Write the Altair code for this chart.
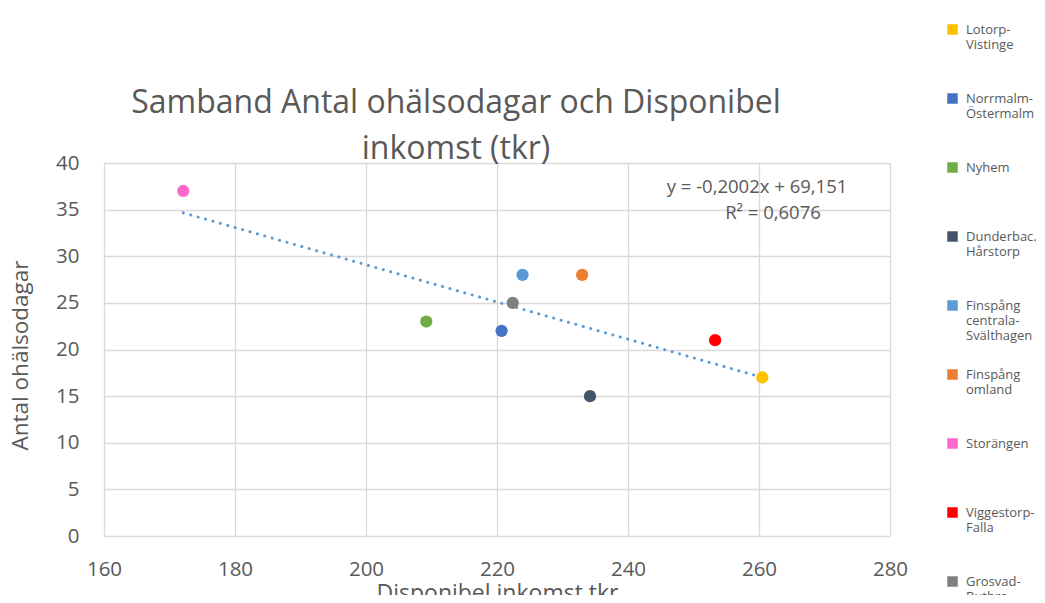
import altair as alt
import pandas as pd

# Data
areas = [
    "Lotorp-\nVistinge",
    "Norrmalm-\nÖstermalm",
    "Nyhem",
    "Dunderbac.\nHårstorp",
    "Finspång\ncentrala-\nSvälthagen",
    "Finspång\nomland",
    "Storängen",
    "Viggestorp-\nFalla",
    "Grosvad-\nButbro",
]
income = [260.5, 220.7, 209.2, 234.2, 223.9, 233.0, 172.1, 253.3, 222.4]
sick_days = [17, 22, 23, 15, 28, 28, 37, 21, 25]
colors = ["#FFC000", "#4472C4", "#70AD47", "#44546A", "#5B9BD5",
          "#ED7D31", "#FF66CC", "#FF0000", "#7F7F7F"]
x_ticks = [160, 180, 200, 220, 240, 260, 280]
y_ticks = [0, 5, 10, 15, 20, 25, 30, 35, 40]
eq_line1 = "y = -0,2002x + 69,151"
eq_line2 = "R² = 0,6076"

df = pd.DataFrame({"area": areas, "income": income, "days": sick_days})

FONT = "Open Sans"
GREY = "#595959"

base = alt.Chart(df)

points = base.mark_circle(size=150, opacity=1).encode(
    x=alt.X("income:Q", scale=alt.Scale(domain=[160, 280], nice=False),
            axis=alt.Axis(values=x_ticks, title="Disponibel inkomst tkr")),
    y=alt.Y("days:Q", scale=alt.Scale(domain=[0, 40], nice=False),
            axis=alt.Axis(values=y_ticks, title="Antal ohälsodagar", titleY=192)),
    color=alt.Color(
        "area:N",
        scale=alt.Scale(domain=areas, range=colors),
        sort=areas,
        legend=alt.Legend(
            title=None, orient="none", legendX=842, legendY=-140,
            symbolType="square", symbolSize=110, symbolStrokeWidth=0,
            labelFont=FONT, labelFontSize=13, labelColor=GREY,
            labelExpr="split(datum.label, '\\n')",
            labelLimit=200, labelOffset=7, rowPadding=25, gridAlign="all",
            padding=0, symbolOpacity=1,
        ),
    ),
)

trend = base.transform_regression("income", "days").mark_line(
    color="#5B9BD5", strokeWidth=3, strokeDash=[0.1, 7.6], strokeCap="round"
).encode(x="income:Q", y="days:Q")

eq1 = alt.Chart(pd.DataFrame({"t": [eq_line1]})).mark_text(
    font=FONT, fontSize=18.5, color=GREY, align="center", baseline="middle"
).encode(text="t:N", x=alt.value(653), y=alt.value(24))
eq2 = alt.Chart(pd.DataFrame({"t": [eq_line2]})).mark_text(
    font=FONT, fontSize=18.5, color=GREY, align="center", baseline="middle"
).encode(text="t:N", x=alt.value(669), y=alt.value(50))

chart = alt.layer(trend, points, eq1, eq2).properties(
    width=786, height=373,
    background="white",
    autosize=alt.AutoSizeParams(type="none"),
    padding={"left": 96, "top": 155, "right": 147, "bottom": 59},
    title=alt.Title(
        ["Samband Antal ohälsodagar och Disponibel", "inkomst (tkr)"],
        font=FONT, fontSize=32, fontWeight="normal", color=GREY,
        anchor="middle", dx=-41, dy=149, lineHeight=46, offset=6,
    ),
).configure_axis(
    labelFont=FONT, labelFontSize=20.5, labelColor=GREY, labelFlush=False,
    titleFont=FONT, titleColor=GREY, titleFontWeight="normal",
    ticks=False, domain=False, grid=True, gridColor="#D9D9D9", gridWidth=1.3,
).configure_axisY(
    labelPadding=25, titlePadding=23, titleFontSize=22.5,
).configure_axisX(
    labelPadding=23, titlePadding=3, titleFontSize=23,
).configure_view(strokeWidth=0)

chart.save("out.html", embed_options={"renderer": "svg", "actions": False})
